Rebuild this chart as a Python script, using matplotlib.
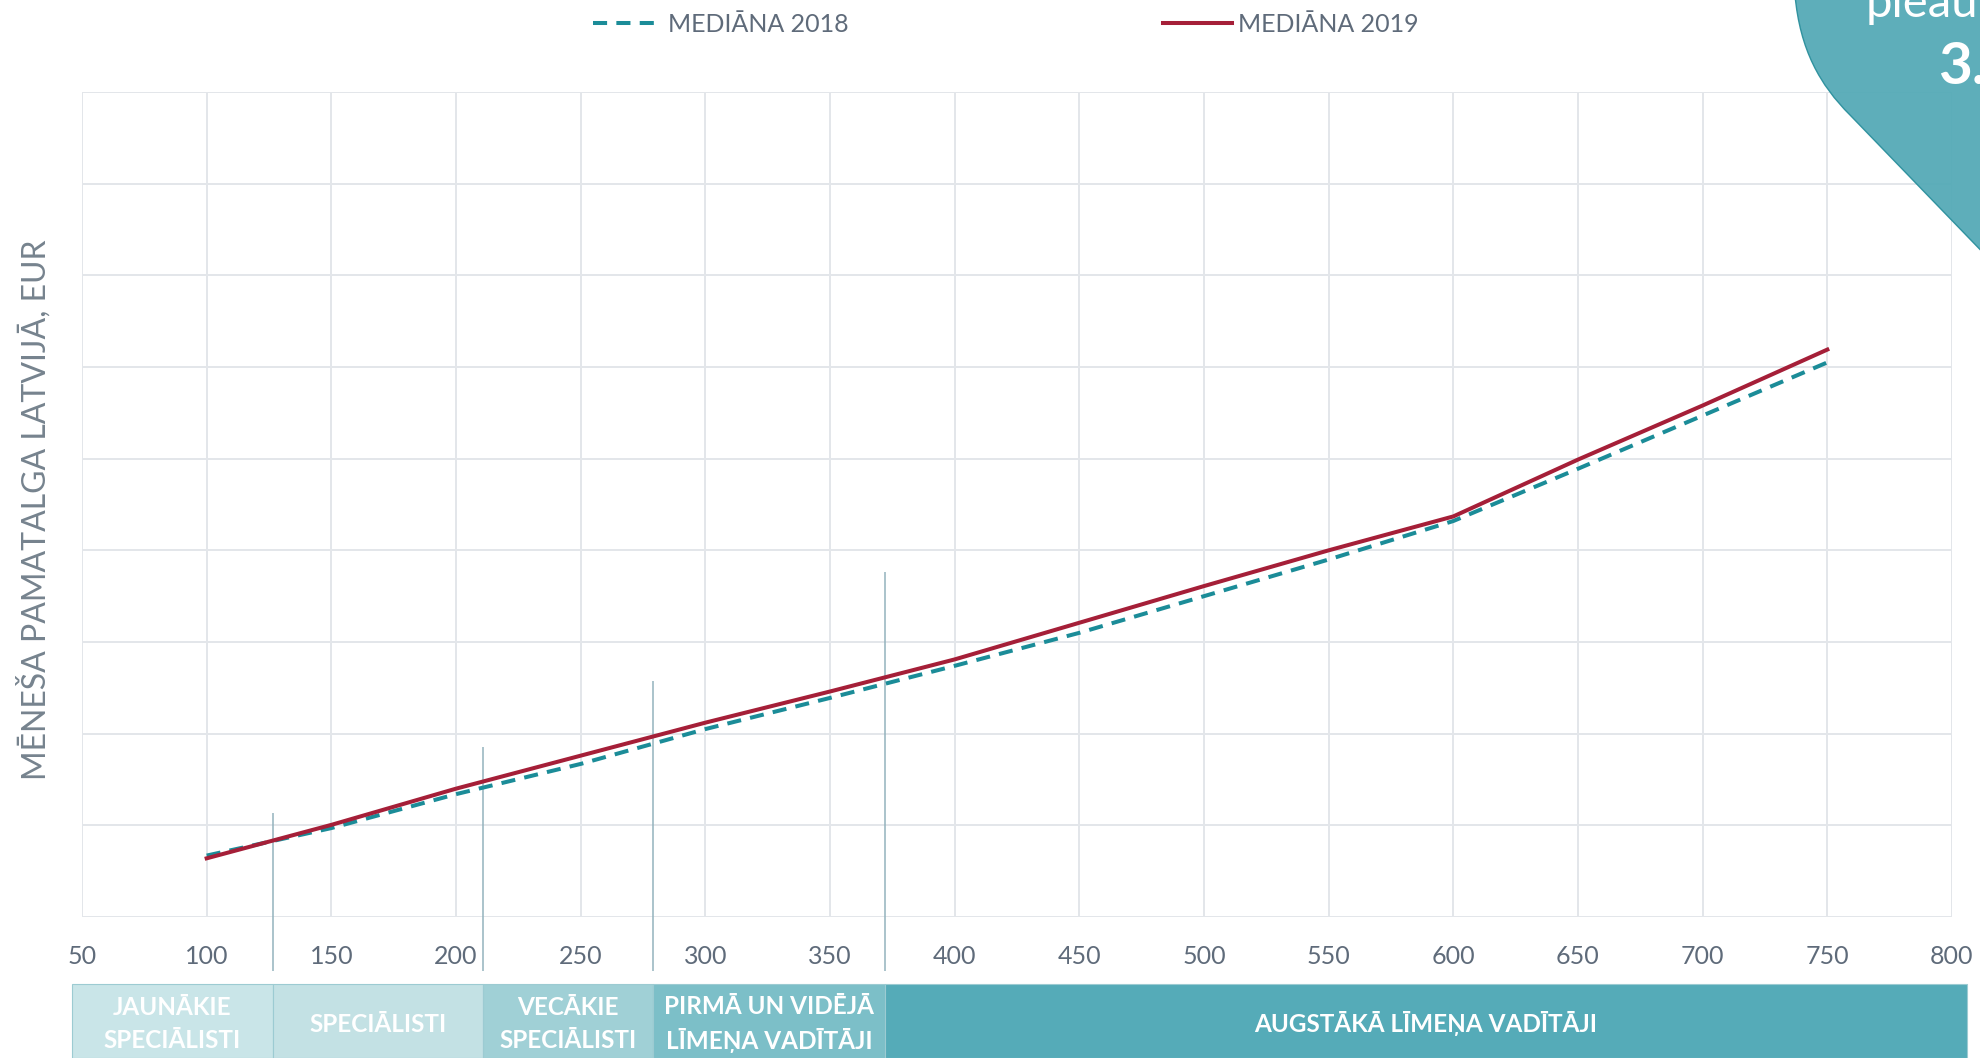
import matplotlib
matplotlib.use("agg")
import matplotlib.pyplot as plt
from matplotlib.patches import Rectangle, PathPatch
from matplotlib.path import Path
from matplotlib.transforms import blended_transform_factory

plt.rcParams["font.family"] = ["Lato", "DejaVu Sans"]

# job grade points (x) and median monthly base salary, EUR (y)
points = [100, 150, 200, 250, 300, 350, 400, 450, 500, 550, 600, 650, 700, 750]
median_2018 = [670, 970, 1340, 1670, 2050, 2390, 2740, 3100, 3500, 3900, 4320, 4890, 5470, 6050]
median_2019 = [640, 1005, 1400, 1760, 2120, 2460, 2810, 3210, 3610, 4000, 4370, 4990, 5580, 6190]

# job level bands along the x axis
band_edges = [46, 126.5, 211, 279, 372, 806]
band_labels = [
    "JAUNĀKIE\nSPECIĀLISTI",
    "SPECIĀLISTI",
    "VECĀKIE\nSPECIĀLISTI",
    "PIRMĀ UN VIDĒJĀ\nLĪMEŅA VADĪTĀJI",
    "AUGSTĀKĀ LĪMEŅA VADĪTĀJI",
]
band_colors = ["#c9e5e8", "#c3e1e4", "#a0d0d6", "#7cbfc8", "#55abb8"]
divider_tops = [1140, 1860, 2580, 3760]

TEXT = "#5f6b7a"
GRID = "#e3e6ea"
RED = "#a51f38"
TEAL = "#1b8c98"

W, H = 1980, 1058
fig = plt.figure(figsize=(W / 100, H / 100), dpi=100)
ax = fig.add_axes([82 / W, 1 - 917 / H, (1952 - 82) / W, (917 - 92) / H])

ax.set_xlim(50, 800)
ax.set_ylim(0, 9000)
ax.set_xticks(range(50, 801, 50))
ax.set_yticks(range(0, 9001, 1000))
ax.set_yticklabels([])
ax.grid(True, color=GRID, linewidth=1.4, zorder=0)
ax.set_axisbelow(True)
for s in ax.spines.values():
    s.set_visible(False)
ax.tick_params(length=0, pad=20, labelsize=18, labelcolor=TEXT)

# level dividers, running below the axis
ax.vlines(band_edges[1:-1], -585, divider_tops, color="#93b3bd", linewidth=1.1,
          clip_on=False, zorder=2)

ax.plot(points, median_2018, color=TEAL, linewidth=2.9, dashes=(3.5, 2.3),
        label="MEDIĀNA 2018", zorder=3)
ax.plot(points, median_2019, color=RED, linewidth=2.9, label="MEDIĀNA 2019", zorder=4)

fig.legend(loc="center", bbox_to_anchor=(0.508, 1 - 24 / H), ncol=2, frameon=False,
           fontsize=18, labelcolor=TEXT, handlelength=2.75, handletextpad=0.25,
           columnspacing=12.6)

fig.text(34 / W, 1 - 510 / H, "MĒNEŠA PAMATALGA LATVIJĀ, EUR", rotation=90,
         ha="center", va="center", fontsize=23, color="#76838e")

# coloured level bands under the axis
trans = blended_transform_factory(ax.transData, fig.transFigure)
band_h = (H - 984) / H
for i, label in enumerate(band_labels):
    x0, x1 = band_edges[i], band_edges[i + 1]
    ax.add_patch(Rectangle((x0, 0), x1 - x0, band_h, transform=trans, clip_on=False,
                           facecolor=band_colors[i], edgecolor="#9ccbd2", linewidth=0.8))
    ax.text((x0 + x1) / 2, 1 - 1024 / H, label, transform=trans, ha="center", va="center",
            fontsize=17.5, fontweight="bold", color="white", linespacing=1.5, clip_on=False)

# decorative callout in the top right corner
verts = [(1795, -5), (1800, 50), (1820, 85), (1850, 115), (1995, 265), (1995, -5), (1795, -5)]
codes = [Path.MOVETO, Path.CURVE4, Path.CURVE4, Path.CURVE4, Path.LINETO, Path.LINETO,
         Path.CLOSEPOLY]
verts = [(x / W, 1 - y / H) for x, y in verts]
fig.patches.append(PathPatch(Path(verts, codes), transform=fig.transFigure,
                             facecolor="#55aab7", edgecolor="#2a8f9c", linewidth=1,
                             alpha=0.95, zorder=10))
fig.text(1866 / W, 1 - 17 / H, "pieau", fontsize=34, color="white", ha="left",
         va="baseline", zorder=11)
fig.text(1938 / W, 1 - 68 / H, "3.", fontsize=42, fontweight="bold", color="white",
         ha="left", va="center", zorder=11)

fig.savefig("out.png", dpi=100)
